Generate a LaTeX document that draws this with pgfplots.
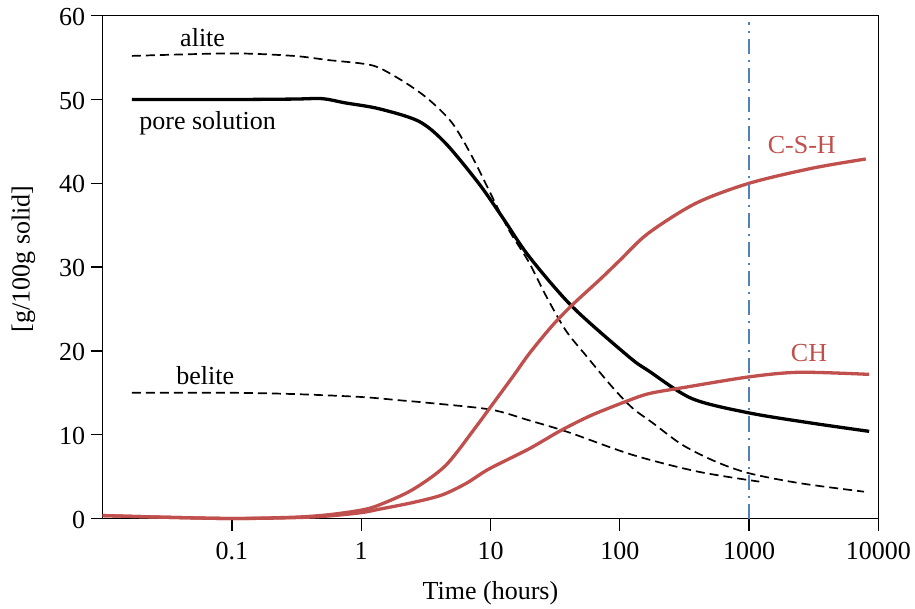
\documentclass[border=0pt]{standalone}
\usepackage{pgfplots}
\pgfplotsset{compat=1.18}
\usepackage{fontspec}
\setmainfont{Liberation Serif}
\definecolor{cred}{HTML}{C0504D}
\definecolor{cblue}{HTML}{4F81BD}
\begin{document}
\begin{tikzpicture}[font=\fontsize{26bp}{31bp}\selectfont]
\useasboundingbox (-102.7bp,-90.5bp) rectangle (812.3bp,518.5bp);
\begin{semilogxaxis}[
  at={(0,0)}, anchor=south west,
  scale only axis, width=775.6bp, height=502.8bp,
  xmin=0.01, xmax=10000, ymin=0, ymax=60,
  xtick={0.1,1,10,100,1000,10000},
  xticklabels={0.1,1,10,100,1000,10000},
  ytick={0,10,20,30,40,50,60},
  xminorticks=false, yminorticks=false,
  tick pos=left, tick align=outside,
  major tick length=12bp,
  major tick style={line width=1.3bp, black},
  axis line style={line width=1.5bp},
  /pgf/number format/assume math mode=true,
  xticklabel style={anchor=base, yshift=-28.5bp},
  yticklabel style={anchor=east, xshift=-2bp, yshift=-1bp},
  xlabel={Time (hours)},
  ylabel={[g/100g solid]},
  xlabel style={at={([yshift=-81bp]axis description cs:0.5,0)}, anchor=base},
  ylabel style={at={([xshift=-73bp]axis description cs:0,0.516)}, anchor=base},
  clip=false,
]
% alite
\addplot[black, line width=1.7bp, dash pattern=on 9bp off 5bp, smooth] coordinates {
(0.0168,55.2) (0.1,55.5) (0.3,55.2) (0.56,54.7) (1,54.3) (1.37,53.8) (2.2,52.0) (3.33,50.0) (5.05,47.2) (7.2,43.2) (10.3,38.4) (13.9,34.4) (19.8,30.6) (26.6,26.7) (38,22.5) (54.4,19.5) (87.4,15.7) (125,13.2) (180,11.4) (304,8.8) (550,6.8) (1000,5.4) (2500,4.2) (7750,3.2)};
% belite
\addplot[black, line width=1.7bp, dash pattern=on 9bp off 5bp, smooth] coordinates {
(0.0168,15.0) (0.1,15.0) (0.3,14.85) (1,14.5) (2,14.1) (3.3,13.8) (10,13.0) (20,11.7) (40,10.3) (125,7.6) (400,5.6) (1200,4.4)};
% pore solution
\addplot[black, line width=3.3bp, smooth] coordinates {
(0.0168,50.0) (0.1,50.0) (0.3,50.05) (0.5,50.1) (0.75,49.6) (1.37,48.9) (2.79,47.4) (4.48,44.8) (8.1,40.0) (12.3,36.0) (19.8,31.3) (42.8,25.3) (117.6,19.3) (168,17.6) (363,14.3) (1000,12.6) (3000,11.4) (8500,10.4)};
% C-S-H
\addplot[cred, line width=3.3bp, smooth] coordinates {
(0.01,0.35) (0.03,0.15) (0.1,0.0) (0.3,0.15) (0.56,0.45) (1,1.0) (1.37,1.6) (2.47,3.4) (4.48,6.3) (7.6,10.8) (10,13.3) (15,17.0) (20,19.7) (30,23.0) (43,25.5) (70,28.5) (100,30.8) (165,34.0) (386,37.6) (1000,40.0) (3080,41.8) (8000,42.9)};
% CH
\addplot[cred, line width=3.3bp, smooth] coordinates {
(0.01,0.35) (0.03,0.15) (0.1,0.0) (0.3,0.1) (0.56,0.3) (1,0.7) (1.37,1.1) (2.5,1.9) (4.2,2.8) (6.5,4.2) (9.7,5.9) (19.8,8.3) (35,10.5) (60,12.3) (111,13.95) (168,14.9) (304,15.6) (1000,16.9) (2450,17.45) (8500,17.2)};
% 1000 h marker
\addplot[cblue, line width=2bp, dash pattern=on 15bp off 6bp on 2bp off 6bp] coordinates {(1000,0) (1000,59.2)};
\node[anchor=base] at (axis cs:0.0593,56.3) {alite};
\node[anchor=base] at (axis cs:0.0649,46.4) {pore solution};
\node[anchor=base] at (axis cs:0.0622,15.94) {belite};
\node[anchor=base, text=cred] at (axis cs:2559,43.5) {C-S-H};
\node[anchor=base, text=cred] at (axis cs:2910,18.7) {CH};
\end{semilogxaxis}
\end{tikzpicture}
\end{document}
